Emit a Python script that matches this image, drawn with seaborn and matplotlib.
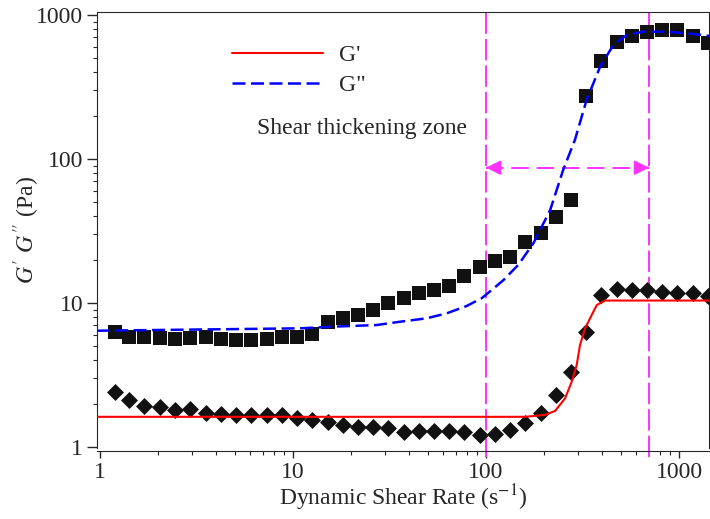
import matplotlib
matplotlib.use("Agg")
import matplotlib.pyplot as plt
from matplotlib.ticker import LogLocator, FuncFormatter, NullFormatter
import seaborn as sns
import pandas as pd

shear_rate = [1.19, 1.42, 1.70, 2.04, 2.45, 2.94, 3.53, 4.23, 5.07, 6.08,
              7.29, 8.74, 10.5, 12.6, 15.1, 18.1, 21.7, 26.0, 31.2, 37.4,
              44.8, 53.8, 64.5, 77.3, 92.7, 111, 133, 160, 192, 230,
              275, 330, 396, 475, 570, 683, 819, 982, 1178, 1412]
g_loss = [6.32, 5.83, 5.83, 5.74, 5.62, 5.69, 5.78, 5.62, 5.53, 5.53,
          5.62, 5.83, 5.78, 6.09, 7.34, 7.90, 8.26, 8.94, 9.95, 10.8,
          11.8, 12.3, 13.1, 15.4, 17.9, 19.6, 21.0, 26.4, 30.5, 39.7,
          51.9, 275, 482, 653, 715, 765, 787, 787, 715, 642]
g_storage = [2.40, 2.12, 1.94, 1.90, 1.81, 1.84, 1.71, 1.69, 1.67, 1.67,
             1.67, 1.67, 1.58, 1.54, 1.50, 1.42, 1.37, 1.37, 1.35, 1.28,
             1.30, 1.30, 1.30, 1.28, 1.21, 1.24, 1.31, 1.46, 1.71, 2.30,
             3.33, 6.32, 11.4, 12.6, 12.3, 12.4, 12.0, 11.8, 11.8, 11.1]

# fitted curves
gs_fit_x = [0.96, 159, 202, 228, 257, 278, 295, 307, 326, 353, 375, 414, 1450]
gs_fit_y = [1.62, 1.62, 1.67, 1.78, 2.18, 2.84, 3.71, 5.11, 6.67, 8.26, 9.68, 10.4, 10.4]
gl_fit_x = [0.96, 10.9, 16.2, 27.1, 35.8, 49.3, 62.6, 79.4, 95, 107, 123, 147,
            176, 215, 251, 289, 332, 390, 457, 536, 653, 863, 1186, 1450]
gl_fit_y = [6.42, 6.67, 6.85, 7.03, 7.41, 7.83, 8.48, 9.53, 10.8, 12.3, 14.4, 18.4,
            26.0, 44.2, 83.9, 136, 257, 437, 619, 726, 766, 766, 738, 715]

zone_bounds = [100, 700]
zone_arrow_y = 87

sns.set_style("ticks")
plt.rcParams["font.family"] = ["Liberation Serif", "DejaVu Serif"]
plt.rcParams["mathtext.fontset"] = "stix"

fig = plt.figure(figsize=(7.1, 5.19), dpi=100)
ax = fig.add_axes([97 / 710, 71 / 519, 612 / 710, 436 / 519])
ax.set_xscale("log")
ax.set_yscale("log")

df = pd.DataFrame({"rate": shear_rate, "loss": g_loss, "storage": g_storage})
sns.scatterplot(data=df, x="rate", y="loss", marker="s", s=110, color="#111111",
                linewidth=0, ax=ax, legend=False, zorder=3)
sns.scatterplot(data=df, x="rate", y="storage", marker="D", s=75, color="#111111",
                linewidth=0, ax=ax, legend=False, zorder=3)

sns.lineplot(x=gs_fit_x, y=gs_fit_y, estimator=None, sort=False, color="#ff0000",
             lw=1.5, ax=ax, label="G'", zorder=4)
sns.lineplot(x=gl_fit_x, y=gl_fit_y, estimator=None, sort=False, color="#0000ff",
             lw=1.8, linestyle=(0, (5.2, 2.2)), ax=ax, label='G"', zorder=4)

magenta = "#ff33ff"
for xb in zone_bounds:
    ax.plot([xb, xb], [0.85, 1049], color=magenta, lw=1.4,
            linestyle=(0, (11, 2.6)), clip_on=False, zorder=2)
ax.plot(zone_bounds, [zone_arrow_y, zone_arrow_y], color=magenta, lw=1.4,
        linestyle=(0, (9, 4)), zorder=2)
ax.annotate("", xy=(zone_bounds[0], zone_arrow_y), xytext=(zone_bounds[0] * 1.02, zone_arrow_y),
            arrowprops=dict(arrowstyle="-|>", color=magenta, lw=1.4, mutation_scale=22))
ax.annotate("", xy=(zone_bounds[1], zone_arrow_y), xytext=(zone_bounds[1] / 1.02, zone_arrow_y),
            arrowprops=dict(arrowstyle="-|>", color=magenta, lw=1.4, mutation_scale=22))

ax.text(22.8, 164, "Shear thickening zone", ha="center", va="center", fontsize=17)

ax.set_xlim(0.9648, 1430)
ax.set_ylim(0.984, 1049)
ax.xaxis.set_major_locator(LogLocator(base=10))
ax.yaxis.set_major_locator(LogLocator(base=10))
ax.xaxis.set_minor_locator(LogLocator(base=10, subs=range(2, 10)))
ax.yaxis.set_minor_locator(LogLocator(base=10, subs=range(2, 10)))
fmt = FuncFormatter(lambda v, _: f"{v:g}")
ax.xaxis.set_major_formatter(fmt)
ax.yaxis.set_major_formatter(fmt)
ax.xaxis.set_minor_formatter(NullFormatter())
ax.yaxis.set_minor_formatter(NullFormatter())
ax.tick_params(which="major", length=5, width=1, labelsize=17, pad=3)
ax.tick_params(which="minor", length=3, width=0.8)
ax.tick_params(axis="y", which="major", length=7)
ax.spines["bottom"].set_position(("outward", 2))

ax.set_xlabel("Dynamic Shear Rate (s$^{-1}$)", fontsize=17, labelpad=0)
ax.set_ylabel("$G'$ $G''$ (Pa)", fontsize=17, labelpad=-4)

ax.legend(loc="upper left", bbox_to_anchor=(0.2206, 0.926), frameon=False,
          fontsize=17, handlelength=3.85, handletextpad=0.7, labelspacing=0.37,
          borderpad=0, borderaxespad=0)

fig.savefig("out.png", dpi=100)
